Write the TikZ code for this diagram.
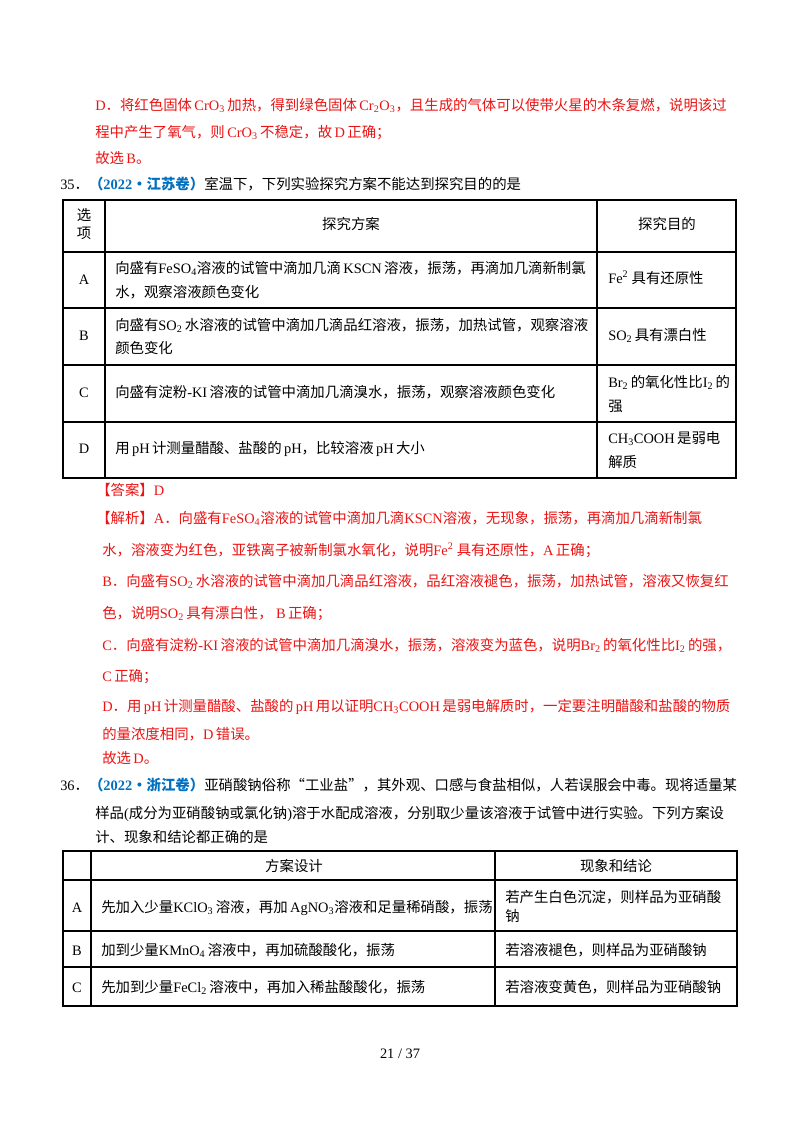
\documentclass[tikz,border=0pt]{standalone}
\usepackage{fontspec}
\setmainfont{Noto Sans CJK SC}
\newfontfamily\lat{Liberation Serif}
\newcommand\la[1]{{\lat #1}}
\definecolor{myred}{RGB}{235,20,20}
\definecolor{myblue}{RGB}{0,112,192}
\tikzset{txt/.style={anchor=base west,inner sep=0pt,font=\fontsize{10.8pt}{12pt}\selectfont},
 ctxt/.style={anchor=base,inner sep=0pt,font=\fontsize{10.8pt}{12pt}\selectfont},
 rd/.style={txt,text=myred}, grid/.style={line width=0.9pt,black}}
\begin{document}
\begin{tikzpicture}[x=0.75pt,y=-0.75pt]
\useasboundingbox[fill=white] (0,0) rectangle (800,1132);
% top red
\node[rd] (l1) at (95,110) {\la{D}．将红色固体\,\la{CrO\textsubscript{3}}\,加热，得到绿色固体\,\la{Cr\textsubscript{2}O\textsubscript{3}}，且生成的气体可以使带火星的木条复燃，说明该过};
\node[rd] (l2) at (95,137) {程中产生了氧气，则\,\la{CrO\textsubscript{3}}\,不稳定，故\,\la{D}\,正确；};
\node[rd] (l3) at (95,163) {故选\,\la{B}。};
\node[txt] (q35) at (60,189) {\la{35}．\textcolor{myblue}{\textbf{（\la{\textbf{2022}}·江苏卷）}}室温下，下列实验探究方案不能达到探究目的的是};
% table 1
\draw[grid] (63,200) rectangle (736,478);
\foreach \y in {252,308,365,422} \draw[grid] (63,\y) -- (736,\y);
\draw[grid] (105,200) -- (105,478);
\draw[grid] (597,200) -- (597,478);
\node[ctxt] (h1) at (84,220) {选};
\node[ctxt] (h2) at (84,238) {项};
\node[ctxt] (h3) at (351,229) {探究方案};
\node[ctxt] (h4) at (667,229) {探究目的};
\node[ctxt] (ra) at (84,284) {\la{A}};
\node[ctxt] (rb) at (84,340) {\la{B}};
\node[ctxt] (rc) at (84,397) {\la{C}};
\node[ctxt] (rd1) at (84,453) {\la{D}};
\node[txt] (a1) at (115,273) {向盛有\la{FeSO\textsubscript{4}}溶液的试管中滴加几滴\,\la{KSCN}\,溶液，振荡，再滴加几滴新制氯};
\node[txt] (a2) at (115,297) {水，观察溶液颜色变化};
\node[txt] (a3) at (608,283) {\la{Fe\textsuperscript{2}}\ 具有还原性};
\node[txt] (b1) at (115,330) {向盛有\la{SO\textsubscript{2}}\,水溶液的试管中滴加几滴品红溶液，振荡，加热试管，观察溶液};
\node[txt] (b2) at (115,353) {颜色变化};
\node[txt] (b3) at (608,340) {\la{SO\textsubscript{2}}\,具有漂白性};
\node[txt] (c1) at (115,397) {向盛有淀粉\la{-KI}\,溶液的试管中滴加几滴溴水，振荡，观察溶液颜色变化};
\node[txt] (c3) at (608,387) {\la{Br\textsubscript{2}}\,的氧化性比\la{I\textsubscript{2}}\,的};
\node[txt] (c4) at (608,411) {强};
\node[txt] (d1) at (115,453) {用\,\la{pH}\,计测量醋酸、盐酸的\,\la{pH}，比较溶液\,\la{pH}\,大小};
\node[txt] (d3) at (608,443) {\la{CH\textsubscript{3}COOH}\,是弱电};
\node[txt] (d4) at (608,467) {解质};
% answer
\node[rd] (ans) at (96,495) {【答案】\la{D}};
\node[rd] (e1) at (96,523) {【解析】\la{A}．向盛有\la{FeSO\textsubscript{4}}溶液的试管中滴加几滴\la{KSCN}溶液，无现象，振荡，再滴加几滴新制氯};
\node[rd] (e2) at (102,555) {水，溶液变为红色，亚铁离子被新制氯水氧化，说明\la{Fe\textsuperscript{2}}\ 具有还原性，\la{A}\,正确；};
\node[rd] (e3) at (102,586) {\la{B}．向盛有\la{SO\textsubscript{2}}\,水溶液的试管中滴加几滴品红溶液，品红溶液褪色，振荡，加热试管，溶液又恢复红};
\node[rd] (e4) at (102,618) {色，说明\la{SO\textsubscript{2}}\,具有漂白性，\ \la{B}\,正确；};
\node[rd] (e5) at (102,650) {\la{C}．向盛有淀粉\la{-KI}\,溶液的试管中滴加几滴溴水，振荡，溶液变为蓝色，说明\la{Br\textsubscript{2}}\,的氧化性比\la{I\textsubscript{2}}\,的强，};
\node[rd] (e6) at (102,681) {\la{C}\,正确；};
\node[rd] (e7) at (102,711) {\la{D}．用\,\la{pH}\,计测量醋酸、盐酸的\,\la{pH}\,用以证明\la{CH\textsubscript{3}COOH}\,是弱电解质时，一定要注明醋酸和盐酸的物质};
\node[rd] (e8) at (102,739) {的量浓度相同，\la{D}\,错误。};
\node[rd] (e9) at (102,763) {故选\,\la{D}。};
% q36
\node[txt] (q36) at (60,790) {\la{36}．\textcolor{myblue}{\textbf{（\la{\textbf{2022}}·浙江卷）}}亚硝酸钠俗称“工业盐”，其外观、口感与食盐相似，人若误服会中毒。现将适量某};
\node[txt] (q36b) at (95,818) {样品\la{(}成分为亚硝酸钠或氯化钠\la{)}溶于水配成溶液，分别取少量该溶液于试管中进行实验。下列方案设};
\node[txt] (q36c) at (95,842) {计、现象和结论都正确的是};
% table 2
\draw[grid] (63,851) rectangle (737,1006);
\foreach \y in {880,931,967} \draw[grid] (63,\y) -- (737,\y);
\draw[grid] (91,851) -- (91,1006);
\draw[grid] (495,851) -- (495,1006);
\node[ctxt] (t1) at (294,871) {方案设计};
\node[ctxt] (t2) at (616,871) {现象和结论};
\node[ctxt] (ta) at (77,912) {\la{A}};
\node[ctxt] (tb) at (77,955) {\la{B}};
\node[ctxt] (tc) at (77,992) {\la{C}};
\node[txt] (ta1) at (101,912) {先加入少量\la{KClO\textsubscript{3}}\,溶液，再加\,\la{AgNO\textsubscript{3}}溶液和足量稀硝酸，振荡};
\node[txt] (ta2) at (505,902) {若产生白色沉淀，则样品为亚硝酸};
\node[txt] (ta3) at (505,921) {钠};
\node[txt] (tb1) at (101,955) {加到少量\la{KMnO\textsubscript{4}}\,溶液中，再加硫酸酸化，振荡};
\node[txt] (tb2) at (505,955) {若溶液褪色，则样品为亚硝酸钠};
\node[txt] (tc1) at (101,992) {先加到少量\la{FeCl\textsubscript{2}}\,溶液中，再加入稀盐酸酸化，振荡};
\node[txt] (tc2) at (505,992) {若溶液变黄色，则样品为亚硝酸钠};
\node[ctxt,font=\lat\fontsize{10.8pt}{12pt}\selectfont] (pg) at (400,1058) {21\ /\ 37};
\end{tikzpicture}
\end{document}
